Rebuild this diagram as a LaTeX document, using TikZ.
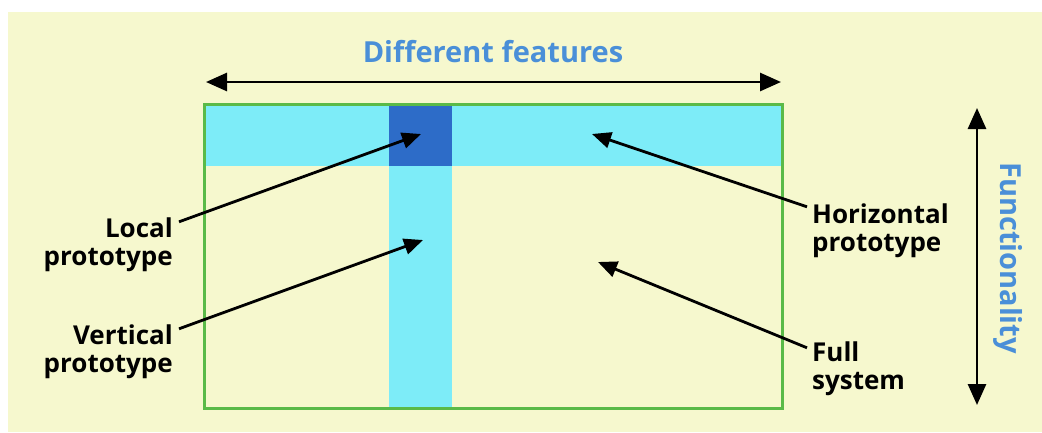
\documentclass[tikz,border=0pt]{standalone}
\usepackage{fontspec}
\setmainfont{Open Sans}
\usetikzlibrary{arrows.meta}
\definecolor{fondo}{RGB}{246,248,206}
\definecolor{cian}{RGB}{125,236,248}
\definecolor{azul}{RGB}{45,108,200}
\definecolor{verde}{RGB}{90,186,72}
\definecolor{titulo}{RGB}{74,143,216}
\tikzset{
    etiqueta/.style={font=\bfseries\fontsize{26}{28}\selectfont, inner sep=0pt},
    eje/.style={font=\bfseries\fontsize{29}{32}\selectfont, inner sep=0pt, text=titulo},
    flecha/.style={line width=2.8pt, -{Triangle[length=19pt,width=16pt]}},
    doble/.style={line width=2.8pt, {Triangle[length=21pt,width=18pt]}-{Triangle[length=21pt,width=18pt]}}
}
\begin{document}
\begin{tikzpicture}[x=1pt,y=-1pt]
    % Dibuja el fondo
    \useasboundingbox (0,0) rectangle (1042,432);
    \fill[white] (0,0) rectangle (1042,432);
    \fill[fondo] (8,12) rectangle (1042,432);

    % Dibuja las bandas del prototipo
    \fill[cian] (204,104) rectangle (782,166);
    \fill[cian] (389,104) rectangle (452,408);
    \fill[azul] (389,104) rectangle (452,166);
    \draw[verde, line width=3pt] (204,104) rectangle (782,408);

    % Dibuja los ejes
    \node[eje] (rasgos) at (493,52) {Different features};
    \coordinate (ejeizq) at (206,82);
    \coordinate (ejeder) at (781,82);
    \draw[doble] (ejeizq) -- (ejeder);
    \coordinate (ejearr) at (977,108);
    \coordinate (ejeaba) at (977,405);
    \draw[doble] (ejearr) -- (ejeaba);
    \node[eje, rotate=-90] (funcion) at (1008,258) {Functionality};

    % Dibuja las etiquetas
    \node[etiqueta, align=right, anchor=east] (local) at (173,245) {Local\\prototype};
    \node[etiqueta, align=right, anchor=east] (vertical) at (173,352) {Vertical\\prototype};
    \node[etiqueta, align=left, anchor=west] (horizontal) at (812,231) {Horizontal\\prototype};
    \node[etiqueta, align=left, anchor=west] (completo) at (812,369) {Full\\system};

    % Dibuja las flechas
    \coordinate (plocal) at (421,134);
    \coordinate (pvertical) at (423,240);
    \coordinate (phorizontal) at (592,134);
    \coordinate (pcompleto) at (598,262);
    \draw[flecha] (local.north east) ++(6,4) -- (plocal);
    \draw[flecha] (vertical.north east) ++(6,4) -- (pvertical);
    \draw[flecha] (horizontal.north west) ++(-5,3) -- (phorizontal);
    \draw[flecha] (completo.north west) ++(-5,6) -- (pcompleto);
\end{tikzpicture}
\end{document}
